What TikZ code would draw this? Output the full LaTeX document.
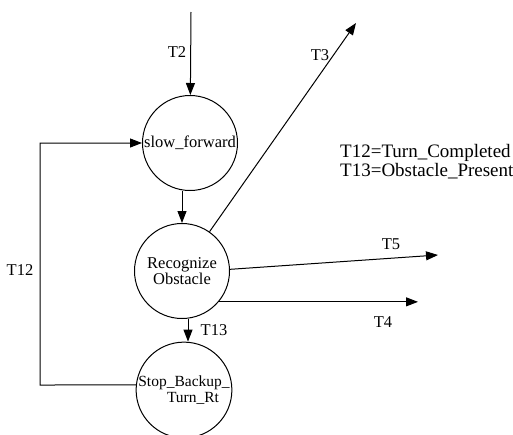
\documentclass[tikz,border=0pt]{standalone}
\usepackage{fontspec}
\setmainfont{Liberation Serif}
\usetikzlibrary{arrows.meta}
\begin{document}
\begin{tikzpicture}[x=1pt,y=-1pt,
  state/.style={circle,draw,line width=1pt,minimum size=95pt,inner sep=0pt,font=\fontsize{16.5}{15.5}\selectfont,align=center},
  conn/.style={line width=1pt,-{Triangle[length=12pt,width=9pt]}},
  lab/.style={font=\fontsize{16.5}{18}\selectfont,inner sep=0pt}]
\useasboundingbox (0,0) rectangle (513,434);
\node[state] (sf) at (190,143) {slow\_forward};
\node[state] (ro) at (182,271) {Recognize\\Obstacle};
\node[state,font=\fontsize{15.5}{16.5}\selectfont] (sb) at (184,390) {Stop\_Backup\_\\\hspace*{18pt}Turn\_Rt};
\coordinate (t2s) at (191,12);
\coordinate (t3e) at (356,23);
\coordinate (t5e) at (438,255);
\coordinate (t4e) at (418,301);
\coordinate (c12b) at (40,385);
\coordinate (c12t) at (40,143);
\draw[conn] (t2s) -- (sf);
\draw[conn] (sf.south -| ro.north) -- (ro.north);
\draw[conn] ([xshift=6pt]ro.south) -- ([xshift=6pt]ro.south |- sb.north);
\draw[conn] (ro.55) -- (t3e);
\draw[conn] (ro.2) -- (t5e);
\draw[conn] (ro.-40) -- (ro.-40 -| t4e);
\draw[conn] (sb.174) -- (c12b) -- (c12t) -- (sf.west);
\node[lab] (l2) at (177,52) {T2};
\node[lab] (l3) at (320,55) {T3};
\node[lab] (l5) at (391,244) {T5};
\node[lab] (l4) at (383,322) {T4};
\node[lab] (l13) at (214,330) {T13};
\node[lab] (l12) at (20,270) {T12};
\node[font=\fontsize{19}{19}\selectfont,align=left,anchor=west,inner sep=0pt] (leg) at (340,162) {T12=Turn\_Completed\\T13=Obstacle\_Present};
\end{tikzpicture}
\end{document}
